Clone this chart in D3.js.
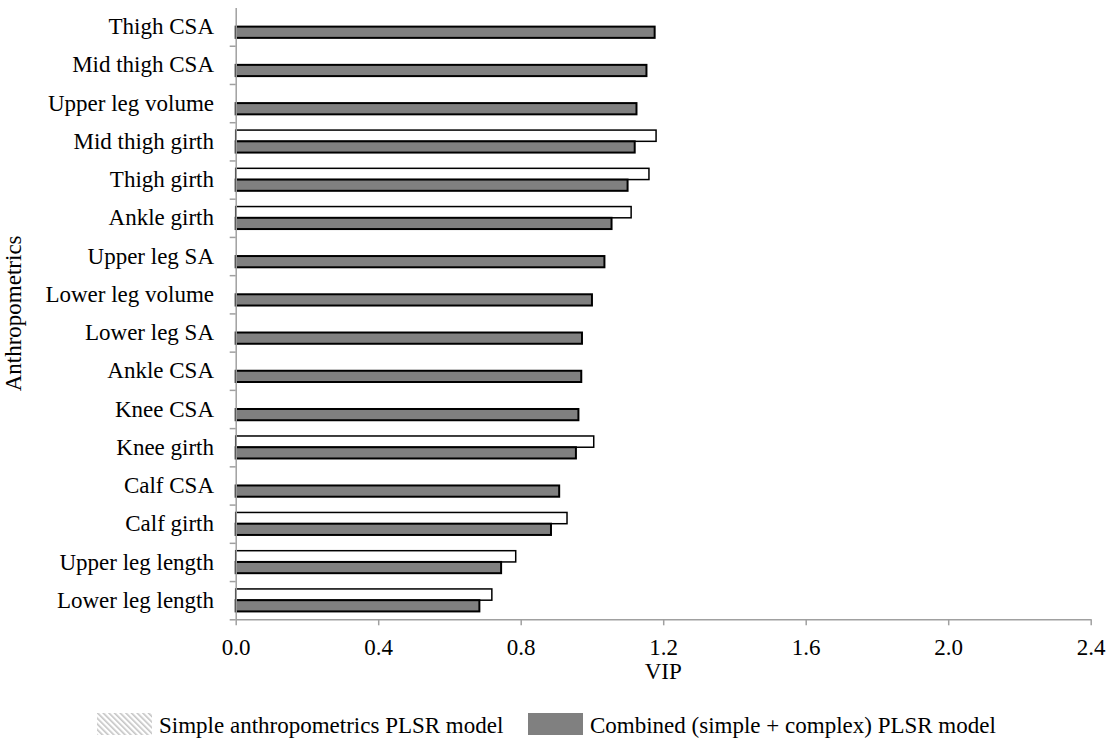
<!DOCTYPE html>
<html>
<head>
<meta charset="utf-8">
<script src="https://cdn.jsdelivr.net/npm/d3@7"></script>
<style>
  html, body { margin: 0; padding: 0; background: #fff; }
  svg { display: block; }
  text { font-family: "Liberation Serif", "Times New Roman", serif; fill: #000; }
</style>
</head>
<body>
<svg id="chart" width="1119" height="755"></svg>
<script>
// Anthropometric variables, top to bottom
const categories = [
  "Thigh CSA", "Mid thigh CSA", "Upper leg volume", "Mid thigh girth",
  "Thigh girth", "Ankle girth", "Upper leg SA", "Lower leg volume",
  "Lower leg SA", "Ankle CSA", "Knee CSA", "Knee girth",
  "Calf CSA", "Calf girth ", "Upper leg length", "Lower leg length"
];

// VIP scores; null where the variable is not part of the simple model
const simpleVIP = [
  null, null, null, 1.18,
  1.16, 1.11, null, null,
  null, null, null, 1.005,
  null, 0.93, 0.786, 0.719
];
const combinedVIP = [
  1.176, 1.153, 1.125, 1.12,
  1.10, 1.055, 1.035, 1.0,
  0.972, 0.97, 0.962, 0.955,
  0.908, 0.885, 0.745, 0.684
];

const xTicks = [0, 0.4, 0.8, 1.2, 1.6, 2.0, 2.4];
const seriesKeys = ["simple", "combined"];
const seriesNames = ["Simple anthropometrics PLSR model", "Combined (simple + complex) PLSR model"];

const svg = d3.select("#chart");
const FONT = 23;
const axisColor = "#a0a0a0";

const plot = { left: 235.7, right: 1090.7, top: 7.5, bottom: 619.3 };

const x = d3.scaleLinear().domain([0, 2.4]).range([plot.left, plot.right]);
const y = d3.scaleBand().domain(categories).range([plot.top, plot.bottom]).paddingInner(0).paddingOuter(0);
const ySub = d3.scaleBand().domain(seriesKeys).range([0, y.bandwidth()]).paddingInner(0).paddingOuter(0.7);
const yIdx = d3.scaleLinear().domain([0, categories.length]).range([plot.top, plot.bottom]);

// hatch pattern for the simple-model legend swatch
const defs = svg.append("defs");
const pat = defs.append("pattern")
  .attr("id", "hatch").attr("patternUnits", "userSpaceOnUse")
  .attr("width", 4).attr("height", 4)
  .attr("patternTransform", "rotate(-45)");
pat.append("rect").attr("width", 4).attr("height", 4).attr("fill", "#fff");
pat.append("rect").attr("x", 0).attr("y", 0).attr("width", 1.6).attr("height", 4).attr("fill", "#c4c4c4");

// bars
const rows = categories.map((c, i) => ({ cat: c, simple: simpleVIP[i], combined: combinedVIP[i] }));

const g = svg.append("g");
rows.forEach(r => {
  if (r.simple != null) {
    g.append("rect")
      .attr("x", x(0))
      .attr("y", y(r.cat) + ySub("simple"))
      .attr("width", x(r.simple) - x(0))
      .attr("height", ySub.bandwidth())
      .attr("fill", "#fff")
      .attr("stroke", "#000")
      .attr("stroke-width", 1.5);
  }
});
rows.forEach(r => {
  g.append("rect")
    .attr("x", x(0))
    .attr("y", y(r.cat) + ySub("combined"))
    .attr("width", x(r.combined) - x(0))
    .attr("height", ySub.bandwidth())
    .attr("fill", "#808080")
    .attr("stroke", "#000")
    .attr("stroke-width", 2);
});

// y axis: ticks on category boundaries
const yAxis = svg.append("g")
  .attr("transform", `translate(${plot.left},0)`)
  .call(d3.axisLeft(yIdx).tickValues(d3.range(1, categories.length + 1)).tickSize(6).tickSizeOuter(0).tickFormat(""));
yAxis.select(".domain").attr("stroke", axisColor).attr("stroke-width", 1.5);
yAxis.selectAll(".tick line").attr("stroke", axisColor).attr("stroke-width", 1.5);

// category labels
svg.append("g").selectAll("text").data(categories).join("text")
  .attr("x", 214)
  .attr("y", d => y(d) + y.bandwidth() / 2)
  .attr("dy", "0.33em")
  .attr("text-anchor", "end")
  .attr("font-size", FONT)
  .text(d => d);

// x axis
const xAxis = svg.append("g")
  .attr("transform", `translate(0,${plot.bottom})`)
  .call(d3.axisBottom(x).tickValues(xTicks).tickFormat(d3.format(".1f")).tickSize(6).tickSizeOuter(0));
xAxis.select(".domain").attr("stroke", axisColor).attr("stroke-width", 1.5);
xAxis.selectAll(".tick line").attr("stroke", axisColor).attr("stroke-width", 1.5);
xAxis.selectAll(".tick text")
  .attr("font-family", "Liberation Serif, Times New Roman, serif")
  .attr("font-size", FONT).attr("fill", "#000")
  .attr("y", 36).attr("dy", 0);

// axis titles
svg.append("text")
  .attr("x", (plot.left + plot.right) / 2).attr("y", 679)
  .attr("text-anchor", "middle").attr("font-size", FONT).text("VIP");
svg.append("text")
  .attr("transform", `translate(21,${(plot.top + plot.bottom) / 2}) rotate(-90)`)
  .attr("text-anchor", "middle").attr("font-size", FONT).text("Anthropometrics");

// legend
const legendItems = [
  { name: seriesNames[0], fill: "url(#hatch)", x: 97 },
  { name: seriesNames[1], fill: "#808080", x: 528 }
];
const lg = svg.append("g");
legendItems.forEach(d => {
  lg.append("rect").attr("x", d.x).attr("y", 713).attr("width", 55).attr("height", 22).attr("fill", d.fill);
  lg.append("text").attr("x", d.x + 62).attr("y", 733).attr("font-size", FONT).text(d.name);
});
</script>
</body>
</html>
